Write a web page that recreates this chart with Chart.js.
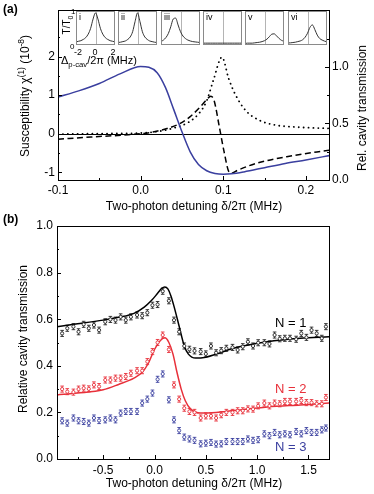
<!DOCTYPE html>
<html>
<head>
<meta charset="utf-8">
<script src="https://cdn.jsdelivr.net/npm/chart.js@4.4.1/dist/chart.umd.min.js"></script>
<style>
  body { margin: 0; background: #fff; overflow: hidden; }
  #wrap { position: relative; width: 374px; height: 494px; font-family: "Liberation Sans", Arial, sans-serif; color: #000; }
  canvas { position: absolute; }
  .t { position: absolute; white-space: nowrap; line-height: 1; }
  .rot { transform: translate(-50%, -50%) rotate(-90deg); }
  .ctr { transform: translate(-50%, -50%); }
  sub, sup { font-size: 70%; line-height: 0; }
</style>
</head>
<body>
<div id="wrap">
  <canvas id="chartA" width="374" height="205" style="left:0;top:0"></canvas>
  <canvas id="chartB" width="374" height="289" style="left:0;top:205px"></canvas>

  <div class="t" style="left:3px;top:3px;font-size:12px;font-weight:bold">(a)</div>
  <div class="t" style="left:3px;top:213px;font-size:12px;font-weight:bold">(b)</div>

  <div class="t rot" style="left:25px;top:96px;font-size:12px">Susceptibility χ<sup>(1)</sup> (10<sup>-8</sup>)</div>
  <div class="t rot" style="left:362px;top:108px;font-size:12px">Rel. cavity transmission</div>
  <div class="t ctr" style="left:194px;top:206px;font-size:12px">Two-photon detuning δ/2π (MHz)</div>

  <div class="t rot" style="left:23px;top:339px;font-size:12px">Relative cavity transmission</div>
  <div class="t ctr" style="left:194px;top:483px;font-size:12px">Two-photon detuning δ/2π (MHz)</div>

  <div class="t" style="left:275px;top:316px;font-size:13px;color:#000">N = 1</div>
  <div class="t" style="left:275px;top:382px;font-size:13px;color:#e8303a">N = 2</div>
  <div class="t" style="left:275px;top:440px;font-size:13px;color:#3a3f9f">N = 3</div>

  <div class="t rot" style="left:67px;top:25px;font-size:10px">T/T<sub>0</sub></div>
  <div class="t" style="left:71px;top:8px;font-size:8px">1</div>
  <div class="t" style="left:70px;top:43px;font-size:8px">0</div>
  <div class="t ctr" style="left:78px;top:52px;font-size:9px">-2</div>
  <div class="t ctr" style="left:95px;top:52px;font-size:9px">0</div>
  <div class="t ctr" style="left:113px;top:52px;font-size:9px">2</div>
  <div class="t" style="left:61px;top:55px;font-size:11px">Δ<sub>p-cav</sub>/2π (MHz)</div>
</div>

<script>
Chart.defaults.font.family = '"Liberation Sans", Arial, sans-serif';
Chart.defaults.color = "#000";

// ---- panel (a) ----
var chiX = [-0.1, -0.075, -0.05, -0.025, 0, 0.01, 0.02, 0.03, 0.04, 0.05, 0.06, 0.07, 0.08, 0.09, 0.1, 0.11, 0.125, 0.15, 0.175, 0.2, 0.23];
var chiY = [0.95, 1.11, 1.3, 1.55, 1.74, 1.72, 1.58, 1.2, 0.63, 0.05, -0.47, -0.8, -0.96, -1.03, -1.05, -1.04, -0.99, -0.88, -0.77, -0.68, -0.56];

var dashX = [-0.1, -0.06, -0.015, 0.012, 0.032, 0.048, 0.06, 0.072, 0.08, 0.085, 0.089, 0.095, 0.101, 0.107, 0.11, 0.117, 0.14, 0.18, 0.23];
var dashY = [0.36, 0.38, 0.4, 0.42, 0.455, 0.5, 0.56, 0.645, 0.71, 0.74, 0.7, 0.48, 0.25, 0.07, 0.06, 0.085, 0.147, 0.21, 0.265];

var dotX = [-0.1, -0.05, 0, 0.022, 0.038, 0.058, 0.072, 0.08, 0.088, 0.0985, 0.1066, 0.115, 0.127, 0.143, 0.163, 0.183, 0.23];
var dotY = [0.405, 0.41, 0.415, 0.43, 0.455, 0.51, 0.6, 0.7, 0.88, 1.085, 0.895, 0.75, 0.615, 0.53, 0.485, 0.47, 0.455];

var aXMajor = [-0.1, 0, 0.1, 0.2];
var aXMinor = [-0.05, 0.05, 0.15];
var aYMajor = [-1, 0, 1, 2];
var aYMinor = [-0.5, 0.5, 1.5, 2.5];
var aY2Major = [0, 0.5, 1.0];
var aY2Minor = [0.25, 0.75, 1.25];

// insets: T/T0 vs probe-cavity detuning
var insetX = [-2, -1.75, -1.5, -1.25, -1, -0.75, -0.5, -0.25, 0, 0.25, 0.5, 0.75, 1, 1.25, 1.5, 1.75, 2];
var insetNames = ["i", "ii", "iii", "iv", "v", "vi"];
var insetI   = [0.06, 0.08, 0.1, 0.14, 0.2, 0.31, 0.5, 0.8, 1.0, 0.8, 0.5, 0.31, 0.2, 0.14, 0.1, 0.08, 0.06];
var insetII  = [0.04, 0.05, 0.07, 0.09, 0.14, 0.22, 0.39, 0.72, 1.0, 0.72, 0.39, 0.22, 0.14, 0.09, 0.07, 0.05, 0.04];
var insetIII = [0.07, 0.12, 0.2, 0.33, 0.55, 0.8, 0.83, 0.61, 0.39, 0.25, 0.17, 0.12, 0.09, 0.07, 0.06, 0.05, 0.04];
var insetIV  = [0.02, 0.02, 0.02, 0.02, 0.02, 0.02, 0.02, 0.02, 0.02, 0.02, 0.02, 0.02, 0.02, 0.02, 0.02, 0.02, 0.02];
var insetV   = [0.01, 0.02, 0.02, 0.02, 0.03, 0.04, 0.05, 0.07, 0.1, 0.15, 0.23, 0.31, 0.32, 0.25, 0.17, 0.11, 0.08];
var insetVI  = [0.025, 0.03, 0.04, 0.05, 0.07, 0.09, 0.13, 0.21, 0.34, 0.53, 0.61, 0.46, 0.28, 0.17, 0.12, 0.085, 0.06];

// ---- panel (b) ----
var bX = [-0.90, -0.85, -0.79, -0.74, -0.69, -0.64, -0.59, -0.54, -0.48, -0.43, -0.38, -0.33, -0.28, -0.23, -0.17, -0.12, -0.07, -0.02, 0.03, 0.08,
          0.14, 0.19, 0.24, 0.29, 0.34, 0.39, 0.45, 0.50, 0.55, 0.60, 0.65, 0.70, 0.76, 0.81, 0.86, 0.91, 0.96, 1.01, 1.07, 1.12,
          1.17, 1.22, 1.27, 1.32, 1.38, 1.43, 1.48, 1.53, 1.58, 1.63, 1.67];
var n1 = [0.539, 0.561, 0.568, 0.546, 0.578, 0.561, 0.575, 0.553, 0.589, 0.599, 0.596, 0.610, 0.596, 0.610, 0.618, 0.615, 0.628, 0.660, 0.663, 0.720,
          0.679, 0.596, 0.546, 0.485, 0.471, 0.464, 0.461, 0.451, 0.485, 0.456, 0.465, 0.475, 0.479, 0.468, 0.482, 0.503, 0.485, 0.499, 0.499, 0.494,
          0.532, 0.516, 0.518, 0.518, 0.514, 0.539, 0.522, 0.553, 0.539, 0.518, 0.568];
var n2 = [0.300, 0.289, 0.287, 0.300, 0.304, 0.301, 0.318, 0.311, 0.339, 0.339, 0.347, 0.347, 0.354, 0.368, 0.379, 0.379, 0.418, 0.461, 0.500, 0.532,
          0.470, 0.318, 0.257, 0.218, 0.204, 0.200, 0.176, 0.185, 0.185, 0.176, 0.190, 0.200, 0.200, 0.207, 0.207, 0.215, 0.214, 0.228, 0.240, 0.228,
          0.240, 0.237, 0.247, 0.247, 0.247, 0.251, 0.242, 0.242, 0.237, 0.237, 0.264];
var n3 = [0.164, 0.154, 0.176, 0.164, 0.161, 0.154, 0.176, 0.165, 0.168, 0.176, 0.168, 0.197, 0.204, 0.204, 0.204, 0.240, 0.257, 0.283, 0.342, 0.365,
          0.254, 0.168, 0.122, 0.094, 0.086, 0.080, 0.065, 0.068, 0.071, 0.064, 0.065, 0.075, 0.075, 0.075, 0.075, 0.086, 0.080, 0.083, 0.108, 0.100,
          0.114, 0.104, 0.108, 0.104, 0.118, 0.108, 0.122, 0.114, 0.114, 0.125, 0.133];
var errBar = 0.013;

var fit1X = [-0.95, -0.75, -0.5, -0.35, -0.2, -0.1, -0.03, 0.03, 0.07, 0.1, 0.13, 0.16, 0.19, 0.24, 0.29, 0.33, 0.4, 0.5, 0.6, 0.77, 1.1, 1.42, 1.7];
var fit1Y = [0.568, 0.58, 0.596, 0.608, 0.625, 0.652, 0.68, 0.711, 0.732, 0.738, 0.73, 0.70, 0.655, 0.57, 0.485, 0.45, 0.433, 0.437, 0.45, 0.475, 0.503, 0.518, 0.525];
var fit2X = [-0.95, -0.75, -0.5, -0.35, -0.2, -0.12, -0.06, 0.0, 0.06, 0.1, 0.14, 0.18, 0.22, 0.26, 0.3, 0.35, 0.45, 0.6, 0.77, 1.1, 1.42, 1.7];
var fit2Y = [0.275, 0.283, 0.297, 0.32, 0.347, 0.372, 0.411, 0.47, 0.51, 0.52, 0.50, 0.45, 0.37, 0.30, 0.25, 0.215, 0.197, 0.2, 0.208, 0.223, 0.232, 0.24];

var bXMajor = [-0.5, 0, 0.5, 1.0, 1.5];
var bXMinor = [-0.75, -0.25, 0.25, 0.75, 1.25];
var bYMajor = [0, 0.2, 0.4, 0.6, 0.8, 1.0];
var bYMinor = [0.1, 0.3, 0.5, 0.7, 0.9];

var BLUE = "#3a3f9f";
var RED = "#e8303a";

function pts(xs, ys) {
  return xs.map(function (x, i) { return { x: x, y: ys[i] }; });
}

function tickSetter(major, minor) {
  return function (scale) {
    scale.ticks = major.concat(minor).sort(function (a, b) { return a - b; })
      .map(function (v) { return { value: v }; });
  };
}

function tickLabel(major, digits) {
  return function (v) {
    return major.indexOf(v) >= 0 ? v.toFixed(digits) : "";
  };
}

function axis(pos, min, max, major, minor, digits, size, pad) {
  return {
    type: "linear",
    position: pos,
    min: min,
    max: max,
    afterBuildTicks: tickSetter(major, minor),
    afterFit: function (s) {
      if (pos === "bottom") s.height = size; else s.width = size;
    },
    grid: { display: false, drawTicks: false },
    border: { display: false },
    ticks: { padding: pad, autoSkip: false, maxRotation: 0, font: { size: 12 }, color: "#000", callback: tickLabel(major, digits) }
  };
}

// frame + inward tick marks
var frameTicks = {
  id: "frameTicks",
  afterDatasetsDraw: function (chart) {
    var a = chart.chartArea;
    var ctx = chart.ctx;
    ctx.save();
    ctx.strokeStyle = "#000";
    ctx.lineWidth = 1;
    Object.keys(chart.scales).forEach(function (id) {
      var s = chart.scales[id];
      s.ticks.forEach(function (t) {
        var len = t.label ? 4 : 2;
        var p = Math.round(s.getPixelForValue(t.value)) + 0.5;
        ctx.beginPath();
        if (s.options.position === "bottom") {
          ctx.moveTo(p, a.bottom); ctx.lineTo(p, a.bottom - len);
        } else if (s.options.position === "left") {
          ctx.moveTo(a.left, p); ctx.lineTo(a.left + len, p);
        } else {
          ctx.moveTo(a.right, p); ctx.lineTo(a.right - len, p);
        }
        ctx.stroke();
      });
    });
    ctx.strokeRect(Math.round(a.left) + 0.5, Math.round(a.top) + 0.5,
                   Math.round(a.right - a.left), Math.round(a.bottom - a.top));
    ctx.restore();
  }
};

var zeroLine = {
  id: "zeroLine",
  beforeDatasetsDraw: function (chart) {
    var a = chart.chartArea;
    var y = Math.round(chart.scales.y.getPixelForValue(0)) + 0.5;
    var ctx = chart.ctx;
    ctx.save();
    ctx.strokeStyle = "#000";
    ctx.lineWidth = 1;
    ctx.beginPath();
    ctx.moveTo(a.left, y);
    ctx.lineTo(a.right, y);
    ctx.stroke();
    ctx.restore();
  }
};

var errorBars = {
  id: "errorBars",
  beforeDatasetsDraw: function (chart) {
    var ctx = chart.ctx;
    var ys = chart.scales.y;
    ctx.save();
    ctx.lineWidth = 0.9;
    chart.data.datasets.forEach(function (ds, di) {
      if (!ds.errBar) return;
      var meta = chart.getDatasetMeta(di);
      ctx.strokeStyle = ds.borderColor;
      meta.data.forEach(function (el, i) {
        var v = ds.data[i].y;
        var top = ys.getPixelForValue(v + ds.errBar);
        var bot = ys.getPixelForValue(v - ds.errBar);
        ctx.beginPath();
        ctx.moveTo(el.x, top); ctx.lineTo(el.x, bot);
        ctx.moveTo(el.x - 1.8, top); ctx.lineTo(el.x + 1.8, top);
        ctx.moveTo(el.x - 1.8, bot); ctx.lineTo(el.x + 1.8, bot);
        ctx.stroke();
      });
    });
    ctx.restore();
  }
};

new Chart(document.getElementById("chartA"), {
  type: "line",
  data: {
    datasets: [
      { data: pts(chiX, chiY), yAxisID: "y", borderColor: BLUE, borderWidth: 1.5, pointRadius: 0, cubicInterpolationMode: "monotone" },
      { data: pts(dashX, dashY), yAxisID: "y2", borderColor: "#000", borderWidth: 1.5, borderDash: [6, 3.5], pointRadius: 0, cubicInterpolationMode: "monotone" },
      { data: pts(dotX, dotY), yAxisID: "y2", borderColor: "#000", borderWidth: 1.8, borderDash: [0.1, 4.8], borderCapStyle: "round", pointRadius: 0, cubicInterpolationMode: "monotone" }
    ]
  },
  options: {
    responsive: false,
    animation: false,
    layout: { padding: { top: 10, left: 0, right: 0, bottom: 0 } },
    plugins: { legend: { display: false }, tooltip: { enabled: false } },
    scales: {
      x: axis("bottom", -0.1, 0.228, aXMajor, aXMinor, 1, 25, 3),
      y: axis("left", -1.2, 3.2, aYMajor, aYMinor, 0, 58, 3),
      y2: axis("right", 0, 1.5, aY2Major, aY2Minor, 1, 45, 3)
    }
  },
  plugins: [zeroLine, frameTicks]
});

// insets
var insetSeries = [insetI, insetII, insetIII, insetIV, insetV, insetVI];
var insetLeft = [76, 118, 161, 203, 245, 288];
var insetFrame = {
  id: "insetFrame",
  beforeDatasetsDraw: function (chart) {
    var a = chart.chartArea, ctx = chart.ctx;
    var x0 = Math.round(chart.scales.x.getPixelForValue(0)) + 0.5;
    ctx.save();
    ctx.fillStyle = "#fff";
    ctx.fillRect(a.left, a.top, a.right - a.left, a.bottom - a.top);
    ctx.strokeStyle = "#b4b4b4";
    ctx.lineWidth = 1;
    ctx.beginPath();
    ctx.moveTo(x0, a.top); ctx.lineTo(x0, a.bottom);
    ctx.stroke();
    ctx.restore();
  },
  afterDatasetsDraw: function (chart) {
    var a = chart.chartArea, ctx = chart.ctx;
    ctx.save();
    ctx.strokeStyle = "#8a8a8a";
    ctx.lineWidth = 1;
    ctx.strokeRect(Math.round(a.left) + 0.5, Math.round(a.top) + 0.5,
                   Math.round(a.right - a.left) - 1, Math.round(a.bottom - a.top) - 1);
    ctx.fillStyle = "#000";
    ctx.font = '9px "Liberation Sans", Arial, sans-serif';
    ctx.textBaseline = "top";
    ctx.fillText(chart.options.plugins.insetFrame.name, a.left + 3, a.top + 2);
    ctx.restore();
  }
};

insetSeries.forEach(function (ys, k) {
  var c = document.createElement("canvas");
  c.width = 39; c.height = 34;
  c.style.left = insetLeft[k] + "px";
  c.style.top = "11px";
  document.getElementById("wrap").appendChild(c);
  new Chart(c, {
    type: "line",
    data: { datasets: [{ data: pts(insetX, ys), borderColor: "#333", borderWidth: 1, pointRadius: 0, cubicInterpolationMode: "monotone" }] },
    options: {
      responsive: false,
      animation: false,
      layout: { padding: 0 },
      plugins: { legend: { display: false }, tooltip: { enabled: false }, insetFrame: { name: insetNames[k] } },
      scales: {
        x: { type: "linear", min: -2, max: 2, display: false },
        y: { type: "linear", min: -0.04, max: 1.06, display: false }
      }
    },
    plugins: [insetFrame]
  });
});

new Chart(document.getElementById("chartB"), {
  type: "line",
  data: {
    datasets: [
      { data: pts(bX, n1), showLine: false, borderColor: "#222", pointBackgroundColor: "#fff", pointBorderWidth: 0.9, pointRadius: 1.6, errBar: errBar },
      { data: pts(bX, n2), showLine: false, borderColor: RED, pointBackgroundColor: "#fff", pointBorderWidth: 0.9, pointRadius: 1.6, errBar: errBar },
      { data: pts(bX, n3), showLine: false, borderColor: BLUE, pointBackgroundColor: "#fff", pointBorderWidth: 0.9, pointRadius: 1.6, errBar: errBar },
      { data: pts(fit1X, fit1Y), borderColor: "#000", borderWidth: 1.5, pointRadius: 0, cubicInterpolationMode: "monotone" },
      { data: pts(fit2X, fit2Y), borderColor: RED, borderWidth: 1.5, pointRadius: 0, cubicInterpolationMode: "monotone" }
    ]
  },
  options: {
    responsive: false,
    animation: false,
    layout: { padding: { top: 21, left: 0, right: 45, bottom: 0 } },
    plugins: { legend: { display: false }, tooltip: { enabled: false } },
    scales: {
      x: axis("bottom", -0.95, 1.7, bXMajor, bXMinor, 1, 35, 4),
      y: axis("left", 0, 1.0, bYMajor, bYMinor, 1, 57, 4)
    }
  },
  plugins: [errorBars, frameTicks]
});
</script>
</body>
</html>
